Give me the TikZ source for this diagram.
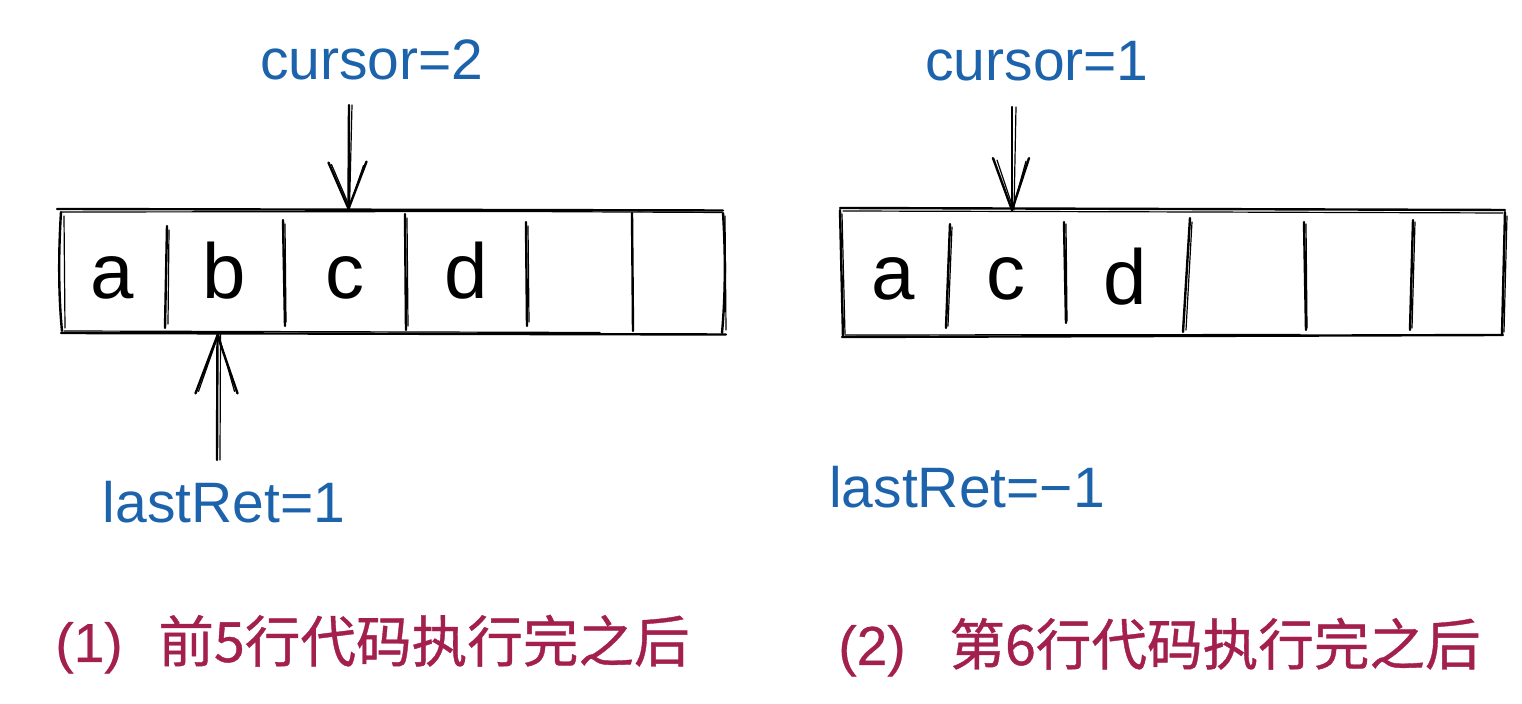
\documentclass[tikz,border=0pt]{standalone}
\usepackage{fontspec}
\setmainfont{Liberation Sans}
\newfontfamily\cjk[FakeBold=0.7]{Noto Sans CJK SC}
\newfontfamily\capfont[FakeBold=0.5]{Liberation Sans}
\definecolor{lblblue}{HTML}{1C63AC}
\definecolor{capred}{HTML}{A3204E}
\begin{document}
\begin{tikzpicture}[x=0.5pt,y=-0.5pt,
  sk/.style={line width=1.2pt,line cap=round,line join=round},
  sktwo/.style={line width=0.6pt,line cap=round,line join=round},
  cell/.style={inner sep=0pt,minimum height=62pt,text height=27.5pt,text depth=0pt,
    font=\fontsize{39}{40}\selectfont},
  lbl/.style={text=lblblue,font=\fontsize{28.5}{30}\selectfont,inner sep=0pt,anchor=base},
  capnum/.style={text=capred,font=\capfont\fontsize{27.5}{30}\selectfont,inner sep=0pt,anchor=base west},
  captxt/.style={text=capred,font=\cjk\fontsize{27.8}{30}\selectfont,inner sep=0pt,anchor=base west},
]
\useasboundingbox (0,0) rectangle (1522,704);

% ---------- left array cells ----------
\node[cell,minimum width=52.5pt] (La) at (112.5,271) {a};
\node[cell,minimum width=59.5pt] (Lb) at (224.5,271) {b};
\node[cell,minimum width=60.5pt] (Lc) at (344.5,271) {c};
\node[cell,minimum width=61pt]   (Ld) at (466,271) {d};
\node[cell,minimum width=52.5pt] (Le) at (579.5,271) {};
\node[cell,minimum width=45pt]   (Lf) at (677,271) {};

% sketchy frame (left)
\draw[sk] (57,209) -- (723,210.5);
\draw[sktwo] (62,212) -- (520,211.5) -- (722,212.5);
\draw[sk] (61,333) -- (726,334.5);
\draw[sktwo] (64,331) -- (600,332.5);
\draw[sk] (61,212) .. controls (58,260) and (59,300) .. (62,331);
\draw[sktwo] (64,216) -- (65,328);
\draw[sk] (167,226) -- (165,328);
\draw[sktwo] (169,230) -- (168,324);
\draw[sk] (283,220) -- (285,326);
\draw[sktwo] (285,224) -- (286,322);
\draw[sk] (405,214) -- (406,330);
\draw[sktwo] (407,218) -- (408,326);
\draw[sk] (526,222) -- (527,326);
\draw[sktwo] (528,226) -- (529,322);
\draw[sk] (632,213) -- (633,331);
\draw[sk] (723,213) .. controls (726,260) and (725,300) .. (722,333);
\draw[sktwo] (725,216) -- (726,330);

% ---------- right array cells ----------
\node[cell,minimum width=53.5pt] (Ra) at (893.5,272.5) {a};
\node[cell,minimum width=59pt]   (Rb) at (1006,272.5) {c};
\node[cell,minimum width=60.5pt] (Rc) at (1125.5,272.5) {\raisebox{-2.5pt}{d}};
\node[cell,minimum width=59pt]   (Rd) at (1245,272.5) {};
\node[cell,minimum width=53.5pt] (Re) at (1357.5,272.5) {};
\node[cell,minimum width=45.5pt] (Rf) at (1456.5,272.5) {};

% sketchy frame (right)
\draw[sk] (840,208) -- (1505,210);
\draw[sktwo] (843,211) -- (1200,212) -- (1503,213);
\draw[sk] (842,337) -- (1503,335);
\draw[sktwo] (845,335) -- (1300,334.5);
\draw[sk] (840,210) -- (843,337);
\draw[sktwo] (842,214) -- (845,334);
\draw[sk] (950,224) -- (946,328);
\draw[sktwo] (952,227) -- (948,326);
\draw[sk] (1064,222) -- (1066,323);
\draw[sktwo] (1066,224) -- (1067,321);
\draw[sk] (1190,218) -- (1183,332);
\draw[sktwo] (1192,222) -- (1186,330);
\draw[sk] (1304,222) -- (1306,330);
\draw[sktwo] (1306,224) -- (1307,328);
\draw[sk] (1413,220) -- (1410,330);
\draw[sktwo] (1415,222) -- (1412,328);
\draw[sk] (1505,212) -- (1502,335);
\draw[sktwo] (1507,216) -- (1504,332);

% ---------- labels ----------
\node[lbl] (curA) at (372,80) {cursor=2};
\node[lbl] (lrA)  at (224,523) {lastRet=1};
\node[lbl] (curB) at (1037,81) {cursor=1};
\node[lbl] (lrB)  at (967,508) {lastRet=−1};

% ---------- arrows ----------
% left cursor -> c
\coordinate (ca) at (349,105);
\coordinate (ta) at ([xshift=2pt]Lc.north);
\draw[sk] (ca) -- (ta);
\draw[sktwo] ([xshift=1.5]ca) -- ([xshift=0.5]ta);
\draw[sk] ([shift={(-20,-46)}]ta) -- (ta) -- ([shift={(18,-47)}]ta);
\draw[sktwo] ([shift={(-17,-44)}]ta) -- ([shift={(1,-2)}]ta) -- ([shift={(15,-43)}]ta);

% lastRet -> b
\coordinate (la) at (217,460);
\coordinate (tb) at ([xshift=-3.5pt]Lb.south);
\draw[sk] (la) -- (tb);
\draw[sktwo] ([xshift=1.5]la) -- ([xshift=1.5]tb);
\draw[sk] ([shift={(-22,60)}]tb) -- ([yshift=-1]tb) -- ([shift={(20,60)}]tb);
\draw[sktwo] ([shift={(-19,58)}]tb) -- ([shift={(1,1)}]tb) -- ([shift={(17,58)}]tb);

% right cursor -> c (second cell)
\coordinate (cb) at (1012,107);
\coordinate (tc) at ([xshift=3pt]Rb.north);
\draw[sk] (cb) -- (tc);
\draw[sktwo] ([xshift=2]cb) -- ([xshift=1]tc);
\draw[sk] ([shift={(-19,-52)}]tc) -- (tc) -- ([shift={(17,-52)}]tc);
\draw[sktwo] ([shift={(-15,-50)}]tc) -- ([shift={(1,-2)}]tc) -- ([shift={(14,-49)}]tc);

% ---------- captions ----------
\node[capnum] (n1) at (55,662) {(1)};
\node[captxt] (t1) at (158,662) {前5行代码执行完之后};
\node[capnum] (n2) at (838,665) {(2)};
\node[captxt] (t2) at (949,665) {第6行代码执行完之后};
\end{tikzpicture}
\end{document}
